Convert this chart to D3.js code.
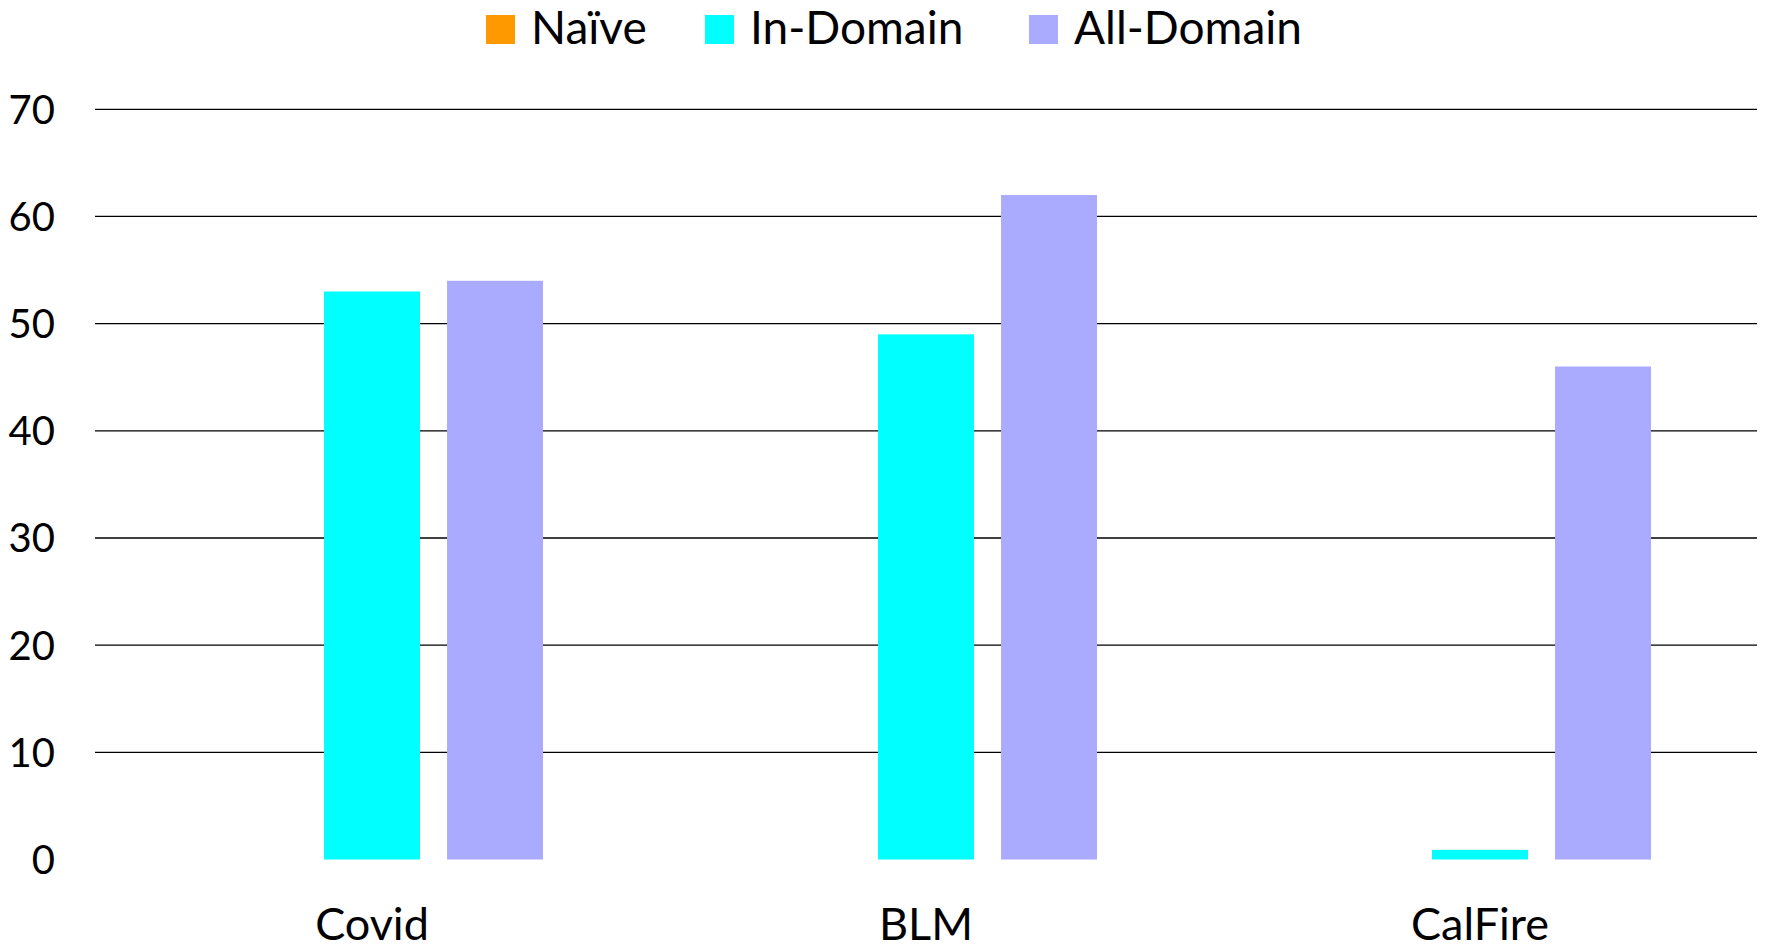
<!DOCTYPE html>
<html>
<head>
<meta charset="utf-8">
<script src="https://cdn.jsdelivr.net/npm/d3@7"></script>
<style>
  html, body { margin: 0; padding: 0; background: #fff; }
  svg { display: block; }
  text { font-family: Lato, "Open Sans", sans-serif; fill: #000; }
</style>
</head>
<body>
<svg id="chart" width="1766" height="949"></svg>
<script>
const categories = ["Covid", "BLM", "CalFire"];
const seriesNames = ["Naïve", "In-Domain", "All-Domain"];
const naive = [null, null, null];
const inDomain = [53, 49, 0.9];
const allDomain = [54, 62, 46];
const yTicks = [0, 10, 20, 30, 40, 50, 60, 70];
const colors = ["#FF9900", "#00FFFF", "#AAAAFF"];

(function () {
const seriesValues = [naive, inDomain, allDomain];

const svg = d3.select("#chart");
const pLeft = 95, pRight = 1757, pTop = 109.3, pBottom = 859.5;

const x = d3.scaleBand().domain(categories).range([pLeft, pRight]).paddingInner(0).paddingOuter(0);
const inner = d3.scaleBand().domain(seriesNames).range([106, x.bandwidth() - 106]).paddingInner(0.22).paddingOuter(0);
const y = d3.scaleLinear().domain([0, 70]).range([pBottom, pTop]);

// gridlines (excluding 0)
svg.append("g").selectAll("line")
  .data(yTicks.filter(d => d > 0))
  .join("line")
  .attr("x1", pLeft).attr("x2", pRight)
  .attr("y1", d => y(d)).attr("y2", d => y(d))
  .attr("stroke", "#000").attr("stroke-width", 1.3);

// y tick labels
svg.append("g").selectAll("text")
  .data(yTicks)
  .join("text")
  .attr("x", 55)
  .attr("y", d => y(d))
  .attr("dy", "0.36em")
  .attr("text-anchor", "end")
  .style("font-size", "40px")
  .text(d => d);

// bars
const bars = [];
seriesValues.forEach((vals, si) => {
  vals.forEach((v, ci) => {
    if (v !== null && v !== undefined) bars.push({ cat: categories[ci], series: seriesNames[si], v, si });
  });
});
svg.append("g").selectAll("rect")
  .data(bars)
  .join("rect")
  .attr("x", d => x(d.cat) + inner(d.series))
  .attr("width", inner.bandwidth())
  .attr("y", d => y(d.v))
  .attr("height", d => y(0) - y(d.v))
  .attr("fill", d => colors[d.si]);

// x labels
svg.append("g").selectAll("text")
  .data(categories)
  .join("text")
  .attr("x", d => x(d) + x.bandwidth() / 2)
  .attr("y", 940)
  .attr("text-anchor", "middle")
  .style("font-size", "45px")
  .text(d => d);

// legend
const legendX = d3.scalePoint().domain(seriesNames).range([486, 1029]);
const legend = svg.append("g").selectAll("g")
  .data(seriesNames)
  .join("g")
  .attr("transform", d => `translate(${legendX(d) + (d === "In-Domain" ? -52.5 : 0)},0)`);
legend.append("rect")
  .attr("x", 0).attr("y", 15)
  .attr("width", 29).attr("height", 29)
  .attr("fill", (d, i) => colors[i]);
legend.append("text")
  .attr("x", 45).attr("y", 44)
  .style("font-size", "46px")
  .text(d => d);
})();
</script>
</body>
</html>
